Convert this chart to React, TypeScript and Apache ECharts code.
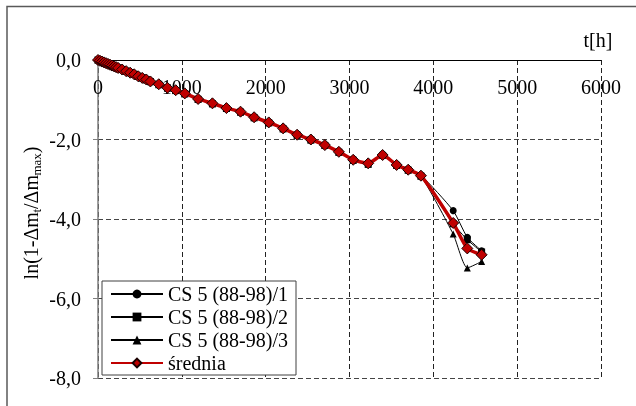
import React, { useEffect, useRef } from "react";
import * as echarts from "echarts";

const FONT = "Liberation Serif";

const timeH = [0, 24, 48, 72, 96, 120, 144, 168, 192, 216, 240, 288, 336, 384, 432, 480, 528, 576, 625, 725, 828, 927, 1035, 1194, 1365, 1532, 1700, 1862, 2037, 2208, 2375, 2539, 2706, 2873, 3044, 3223, 3395, 3562, 3700, 3852, 4237, 4405, 4576];

const sample1 = [0, -0.02, -0.04, -0.06, -0.08, -0.10, -0.12, -0.14, -0.16, -0.18, -0.20, -0.24, -0.28, -0.32, -0.36, -0.40, -0.44, -0.48, -0.53, -0.60, -0.69, -0.75, -0.83, -0.97, -1.08, -1.20, -1.29, -1.43, -1.56, -1.71, -1.87, -1.99, -2.13, -2.30, -2.50, -2.59, -2.37, -2.63, -2.75, -2.90, -3.79, -4.46, -4.80];
const sample2 = [0, -0.02, -0.04, -0.06, -0.08, -0.10, -0.12, -0.14, -0.16, -0.18, -0.20, -0.24, -0.28, -0.32, -0.36, -0.41, -0.45, -0.49, -0.54, -0.61, -0.70, -0.77, -0.85, -0.99, -1.10, -1.22, -1.31, -1.45, -1.58, -1.73, -1.89, -2.01, -2.15, -2.32, -2.52, -2.62, -2.40, -2.65, -2.77, -2.92, -4.12, -4.52, -4.83];
const sample3 = [0, -0.02, -0.04, -0.06, -0.08, -0.10, -0.12, -0.14, -0.16, -0.18, -0.20, -0.24, -0.28, -0.32, -0.36, -0.41, -0.45, -0.50, -0.55, -0.62, -0.71, -0.77, -0.85, -0.99, -1.10, -1.22, -1.31, -1.45, -1.58, -1.73, -1.89, -2.01, -2.15, -2.32, -2.52, -2.62, -2.38, -2.65, -2.77, -2.92, -4.38, -5.23, -5.07];
const meanVals = [0, -0.02, -0.04, -0.06, -0.08, -0.10, -0.12, -0.14, -0.16, -0.18, -0.20, -0.24, -0.28, -0.32, -0.36, -0.41, -0.45, -0.49, -0.54, -0.61, -0.70, -0.76, -0.84, -0.98, -1.09, -1.21, -1.30, -1.44, -1.57, -1.72, -1.88, -2.00, -2.14, -2.31, -2.51, -2.60, -2.39, -2.64, -2.76, -2.91, -4.10, -4.74, -4.90];

const seriesNames = ["CS 5 (88-98)/1", "CS 5 (88-98)/2", "CS 5 (88-98)/3", "średnia"];
const xTicks = { min: 0, max: 6000, interval: 1000 };
const yTicks = { min: -8, max: 0, interval: 2 };
const xAxisTitle = "t[h]";
// y-axis title pieces: [text, isSubscript, local x offset]
const yTitleParts: [string, boolean, number][] = [
  ["ln(1-Δm", false, -66.4],
  ["t", true, 0.4],
  ["/Δm", false, 4.0],
  ["max", true, 37.4],
  [")", false, 59.8],
];

function pairs(vals: number[]) {
  return timeH.map((t, i) => [t, vals[i]]);
}

export default function App() {
  const ref = useRef<HTMLDivElement>(null);
  useEffect(() => {
    if (!ref.current) return;
    const chart = echarts.init(ref.current, undefined, { renderer: "svg" });
    const thin = (name: string, vals: number[], symbol: string, size: number) => ({
      name,
      type: "line",
      data: pairs(vals),
      symbol,
      symbolSize: size,
      smooth: 0.2,
      lineStyle: { color: "#000", width: 1 },
      itemStyle: { color: "#000", borderColor: "#000", borderWidth: 0 },
      z: 3,
    });
    chart.setOption({
      animation: false,
      grid: { left: 98, right: 35, top: 60, bottom: 28, containLabel: false },
      xAxis: {
        type: "value",
        position: "top",
        min: xTicks.min,
        max: xTicks.max,
        interval: xTicks.interval,
        axisLine: { show: true, onZero: false, lineStyle: { color: "#000", width: 1 } },
        axisTick: { show: false },
        axisLabel: {
          inside: true,
          color: "#000",
          fontSize: 20,
          fontFamily: FONT,
          margin: 17,
          formatter: (v: number) => String(v),
        },
        splitLine: { show: true, lineStyle: { color: "#222", width: 1, type: [5, 3] } },
      },
      yAxis: {
        type: "value",
        min: yTicks.min,
        max: yTicks.max,
        interval: yTicks.interval,
        axisLine: { show: true, onZero: false, lineStyle: { color: "#7f7f7f", width: 1.5 } },
        axisTick: { show: true, length: 5, lineStyle: { color: "#7f7f7f", width: 1 } },
        axisLabel: {
          color: "#000",
          fontSize: 20,
          fontFamily: FONT,
          margin: 17,
          formatter: (v: number) => v.toFixed(1).replace(".", ","),
        },
        splitLine: { show: true, lineStyle: { color: "#444", width: 1, type: [5, 3] } },
      },
      legend: {
        orient: "vertical",
        left: 102,
        top: 281,
        data: seriesNames,
        backgroundColor: "#fff",
        borderColor: "#404040",
        borderWidth: 1,
        padding: [3, 8, 2, 8],
        itemGap: 3,
        itemWidth: 52,
        itemHeight: 11,
        itemTextGap: 5,
        textStyle: { color: "#000", fontSize: 20, fontFamily: FONT },
      },
      graphic: [
        {
          type: "rect",
          shape: { x: 7, y: 6.5, width: 700, height: 500 },
          style: { fill: "none", stroke: "#595959", lineWidth: 1.5 },
          silent: true,
          z: 10,
        },
        {
          type: "text",
          x: 598,
          y: 40,
          style: {
            text: xAxisTitle,
            fontSize: 20,
            fontFamily: FONT,
            fill: "#000",
            align: "center",
            verticalAlign: "middle",
          },
        },
        {
          type: "group",
          x: 31,
          y: 213,
          rotation: Math.PI / 2,
          children: yTitleParts.map(([txt, sub, off]) => ({
            type: "text",
            x: off,
            y: sub ? 5 : 0,
            style: {
              text: txt,
              fontSize: sub ? 13 : 20,
              fontFamily: FONT,
              fill: "#000",
              align: "left",
              verticalAlign: "middle",
            },
          })),
        },
      ],
      series: [
        thin(seriesNames[0], sample1, "circle", 7),
        thin(seriesNames[1], sample2, "rect", 7),
        thin(seriesNames[2], sample3, "triangle", 7),
        {
          name: seriesNames[3],
          type: "line",
          data: pairs(meanVals),
          symbol: "diamond",
          symbolSize: 11,
          smooth: 0.2,
          lineStyle: { color: "#c00000", width: 3.5 },
          itemStyle: { color: "#c00000", borderColor: "#1a0000", borderWidth: 1 },
          z: 4,
        },
      ],
    });
    return () => chart.dispose();
  }, []);
  return (
    <div
      ref={ref}
      style={{ position: "fixed", left: 0, top: 0, width: 636, height: 406 }}
    />
  );
}
